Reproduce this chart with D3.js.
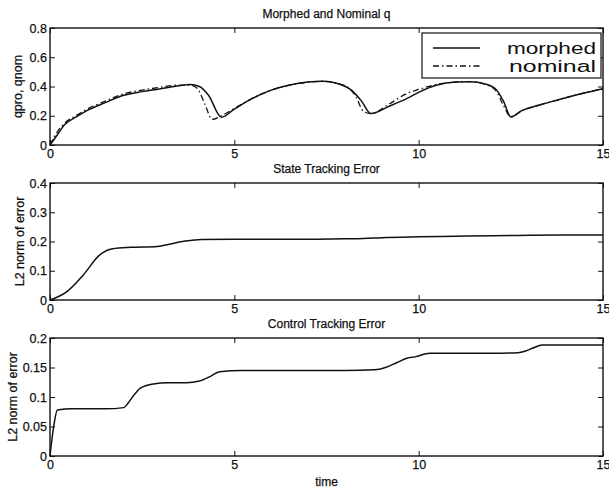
<!DOCTYPE html>
<html>
<head>
<meta charset="utf-8">
<script src="https://cdn.jsdelivr.net/npm/d3@7"></script>
<style>
  body { margin:0; background:#fff; }
  svg text { font-family: "Liberation Sans", Arial, sans-serif; fill:#111; stroke:#111; stroke-width:0.25px; }
  svg text.legend { stroke:none; }
  .tick text { font-size:12.5px; }
  .tick line, .domain { stroke:#111; }
</style>
</head>
<body>
<div id="chart"></div>
<script>
// top panel: q morphed / nominal
let tMorph = [0,0.2,0.4,0.7,1.0,1.5,2.0,2.5,3.0,3.5,3.8,4.05,4.3,4.65,5.0,5.5,6.0,6.5,7.0,7.4,7.8,8.2,8.45,8.7,9.2,9.7,10.0,10.5,11.0,11.4,11.8,12.1,12.3,12.5,12.8,13.3,13.8,14.4,15]
let qMorphed = [0,0.07,0.14,0.19,0.235,0.29,0.34,0.365,0.385,0.405,0.413,0.4,0.34,0.19,0.245,0.32,0.375,0.41,0.43,0.436,0.42,0.37,0.3,0.215,0.265,0.32,0.36,0.41,0.43,0.433,0.418,0.38,0.3,0.192,0.235,0.275,0.31,0.35,0.385]
let tNom = [0,0.2,0.4,0.7,1.0,1.5,2.0,2.5,3.0,3.5,3.8,4.0,4.2,4.4,4.65,5.0,5.5,6.0,6.5,7.0,7.4,7.8,8.05,8.3,8.5,8.7,9.2,9.7,10.0,10.5,11.0,11.4,11.8,12.1,12.3,12.5,12.8,13.3,13.8,14.4,15]
let qNominal = [0,0.09,0.15,0.2,0.245,0.3,0.35,0.375,0.395,0.41,0.41,0.385,0.28,0.175,0.2,0.25,0.32,0.375,0.41,0.43,0.436,0.42,0.4,0.33,0.23,0.215,0.28,0.355,0.38,0.415,0.43,0.433,0.415,0.37,0.27,0.192,0.235,0.275,0.31,0.35,0.385]

// middle panel: state tracking error
let tState = [0,0.45,0.9,1.35,1.7,2.2,2.9,3.6,4.1,5,6,7,8,8.5,9,10,11,12,13,14,15]
let stateErr = [0,0.028,0.085,0.154,0.175,0.18,0.183,0.2,0.207,0.208,0.208,0.208,0.209,0.21,0.213,0.216,0.218,0.22,0.221,0.222,0.222]

// bottom panel: control tracking error
let tCtrl = [0,0.1,0.2,0.6,1.0,1.5,2.0,2.12,2.3,2.45,2.8,3.2,3.7,4.05,4.35,4.6,5.2,6,7,8,8.8,9.1,9.4,9.7,9.9,10.3,11,12,12.7,12.9,13.1,13.35,14,15]
let ctrlErr = [0,0.05,0.078,0.08,0.08,0.08,0.082,0.09,0.105,0.115,0.122,0.124,0.124,0.127,0.135,0.143,0.145,0.145,0.145,0.145,0.146,0.15,0.158,0.166,0.168,0.174,0.174,0.174,0.175,0.178,0.183,0.188,0.188,0.188]

let xTicks = [0,5,10,15]
let panels = [
  { title:"Morphed and Nominal q", ylabel:"qpro, qnom", ymax:0.8, yticks:[0,0.2,0.4,0.6,0.8], top:28, bottom:145, labelX:18 },
  { title:"State Tracking Error", ylabel:"L2 norm of error", ymax:0.4, yticks:[0,0.1,0.2,0.3,0.4], top:183, bottom:300, labelX:20 },
  { title:"Control Tracking Error", ylabel:"L2 norm of error", ymax:0.2, yticks:[0,0.05,0.1,0.15,0.2], top:338, bottom:456, labelX:13 }
]

let width = 609, height = 489,
    left = 50, right = 603

let svg = d3.select("#chart").append("svg").attr("width",width).attr("height",height)
let xScale = d3.scaleLinear().domain([0,15]).range([left,right])

let lineFor = (ys) => d3.line().x(d=>xScale(d[0])).y(d=>ys(d[1])).curve(d3.curveMonotoneX)
let fmt = d => d === 0 ? "0" : String(d)

panels.forEach((p,i)=>{
  let yScale = d3.scaleLinear().domain([0,p.ymax]).range([p.bottom,p.top])
  p.y = yScale
  let g = svg.append("g")

  g.append("rect").attr("x",left).attr("y",p.top).attr("width",right-left).attr("height",p.bottom-p.top)
    .attr("fill","none").attr("stroke","#111").attr("stroke-width",1.4)

  let xb = g.append("g").attr("transform",`translate(0,${p.bottom})`)
    .call(d3.axisBottom(xScale).tickValues(xTicks).tickSize(-5).tickPadding(4).tickFormat(fmt))
  xb.select(".domain").remove()
  let xt = g.append("g").attr("transform",`translate(0,${p.top})`)
    .call(d3.axisTop(xScale).tickValues(xTicks).tickSize(-5).tickFormat(""))
  xt.select(".domain").remove()
  let yl = g.append("g").attr("transform",`translate(${left},0)`)
    .call(d3.axisLeft(yScale).tickValues(p.yticks).tickSize(-5).tickPadding(3).tickFormat(fmt))
  yl.select(".domain").remove()
  let yr = g.append("g").attr("transform",`translate(${right},0)`)
    .call(d3.axisRight(yScale).tickValues(p.yticks).tickSize(-5).tickFormat(""))
  yr.select(".domain").remove()

  g.append("text").attr("x",(left+right)/2).attr("y",p.top-10).attr("text-anchor","middle")
    .style("font-size","12px").text(p.title)
  g.append("text").attr("transform",`translate(${p.labelX},${(p.top+p.bottom)/2}) rotate(-90)`)
    .attr("text-anchor","middle").attr("dy","0.35em").style("font-size","12.5px").text(p.ylabel)
})

let zip = (a,b) => a.map((v,i)=>[v,b[i]])

// top panel lines
svg.append("path").attr("d",lineFor(panels[0].y)(zip(tNom,qNominal)))
  .attr("fill","none").attr("stroke","#111").attr("stroke-width",1.3).attr("stroke-dasharray","6,3,1.5,3")
svg.append("path").attr("d",lineFor(panels[0].y)(zip(tMorph,qMorphed)))
  .attr("fill","none").attr("stroke","#111").attr("stroke-width",1.5)

svg.append("path").attr("d",lineFor(panels[1].y)(zip(tState,stateErr)))
  .attr("fill","none").attr("stroke","#111").attr("stroke-width",1.5)
svg.append("path").attr("d",lineFor(panels[2].y)(zip(tCtrl,ctrlErr)))
  .attr("fill","none").attr("stroke","#111").attr("stroke-width",1.5)

// legend
let lg = svg.append("g")
lg.append("rect").attr("x",422).attr("y",33).attr("width",179).attr("height",45)
  .attr("fill","#fff").attr("stroke","#111").attr("stroke-width",1.2)
let legendItems = [["morphed",null,48,89],["nominal","6,3,1.5,3",66,87]]
legendItems.forEach(([name,dash,y,w])=>{
  lg.append("line").attr("x1",433).attr("x2",480).attr("y1",y).attr("y2",y)
    .attr("stroke","#111").attr("stroke-width",1.3).attr("stroke-dasharray",dash)
  lg.append("text").attr("class","legend").attr("x",596-w).attr("y",y).attr("dy","0.35em")
    .attr("textLength",w).attr("lengthAdjust","spacingAndGlyphs")
    .style("font-size","16px").text(name)
})

svg.append("text").attr("x",(left+right)/2).attr("y",486).attr("text-anchor","middle")
  .style("font-size","12px").text("time")
</script>
</body>
</html>
